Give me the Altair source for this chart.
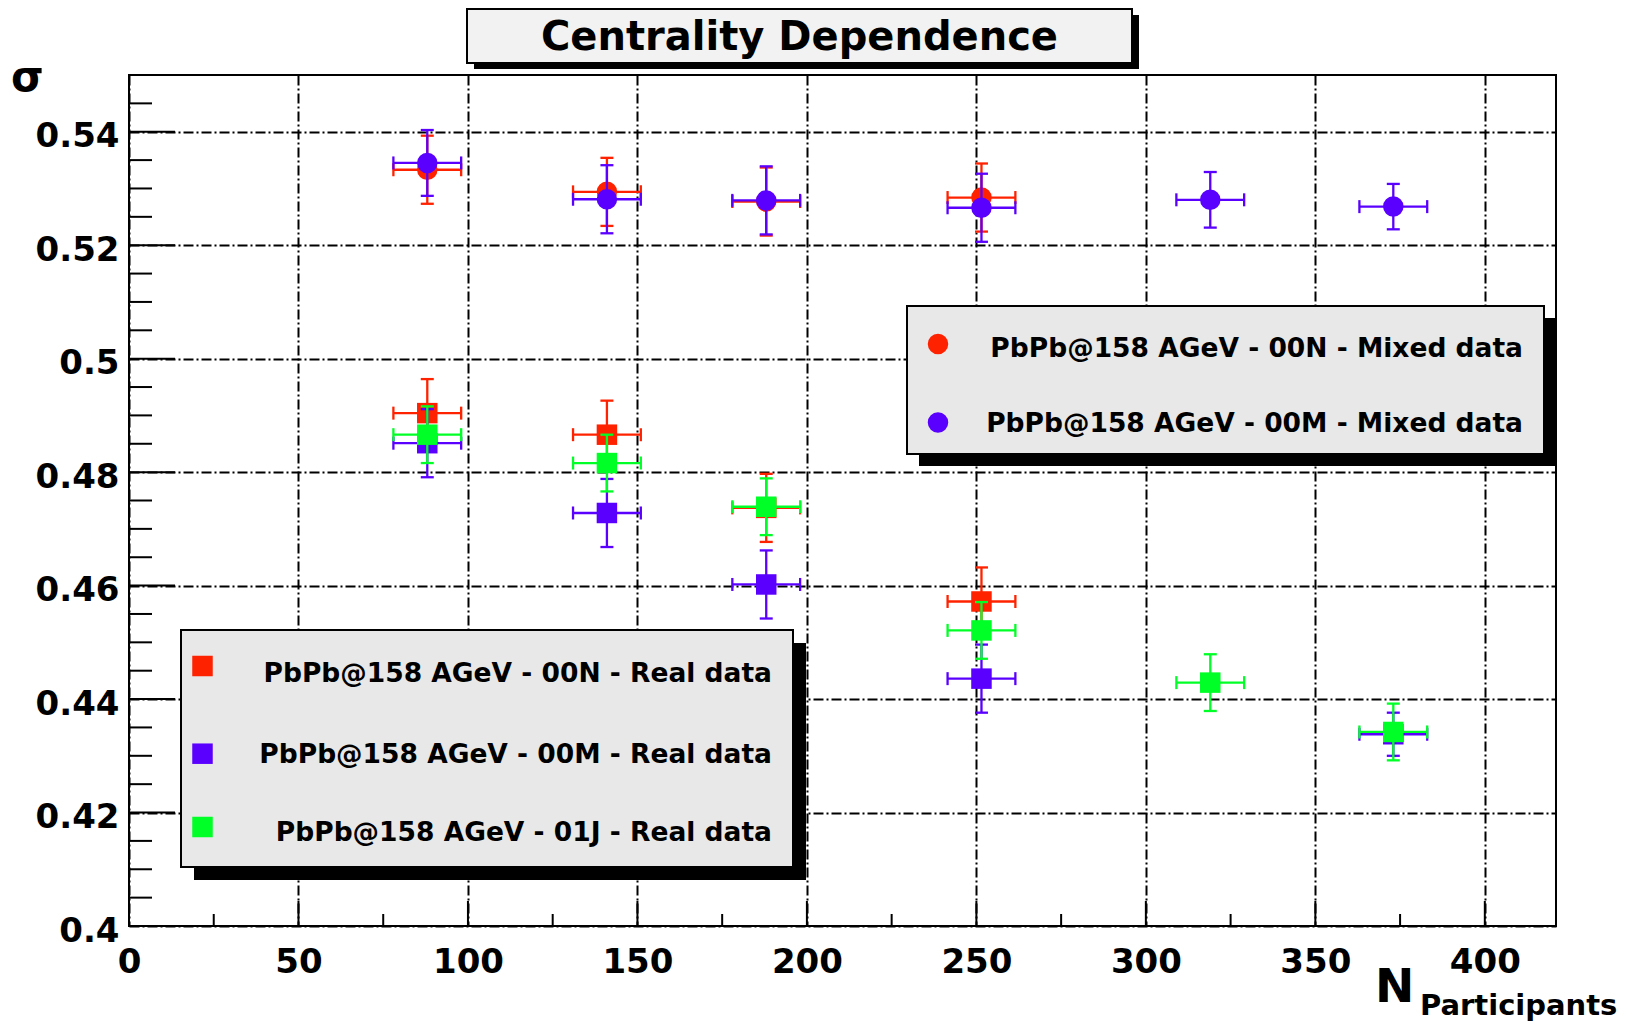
import altair as alt
import pandas as pd

# ---------------- data ----------------
X_DOMAIN = [0, 421]
Y_DOMAIN = [0.40, 0.55]
X_ERR = 10.0

title_text = "Centrality Dependence"
y_title = "σ"
x_title_main = "N"
x_title_sub = "Participants"

x_ticks_major = [0, 50, 100, 150, 200, 250, 300, 350, 400]
x_ticks_minor = [25, 75, 125, 175, 225, 275, 325, 375]
y_ticks_major = [0.40, 0.42, 0.44, 0.46, 0.48, 0.50, 0.52, 0.54]
y_ticks_minor = [0.405, 0.41, 0.415, 0.425, 0.43, 0.435, 0.445, 0.45, 0.455,
                 0.465, 0.47, 0.475, 0.485, 0.49, 0.495, 0.505, 0.51, 0.515,
                 0.525, 0.53, 0.535, 0.545]

names = [
    "PbPb@158 AGeV - 00N - Mixed data",
    "PbPb@158 AGeV - 00M - Mixed data",
    "PbPb@158 AGeV - 00N - Real data",
    "PbPb@158 AGeV - 00M - Real data",
    "PbPb@158 AGeV - 01J - Real data",
]
colors = ["#ff2200", "#5a00ff", "#ff2200", "#5a00ff", "#00ff26"]
shapes = ["circle", "circle", "square", "square", "square"]

x_mixed_00N = [88, 141, 188, 251.5]
y_mixed_00N = [0.5333, 0.5294, 0.5277, 0.5284]
e_mixed_00N = [0.0060, 0.0060, 0.0060, 0.0060]

x_mixed_00M = [88, 141, 188, 251.5, 319, 373]
y_mixed_00M = [0.5345, 0.5281, 0.5279, 0.5266, 0.5280, 0.5268]
e_mixed_00M = [0.0058, 0.0060, 0.0060, 0.0060, 0.0049, 0.0040]

x_real_00N = [88, 141, 188, 251.5]
y_real_00N = [0.4904, 0.4866, 0.4737, 0.4572]
e_real_00N = [0.0060, 0.0060, 0.0060, 0.0060]

x_real_00M = [88, 141, 188, 251.5, 373]
y_real_00M = [0.4851, 0.4728, 0.4602, 0.4436, 0.4338]
e_real_00M = [0.0060, 0.0060, 0.0060, 0.0060, 0.0038]

x_real_01J = [88, 141, 188, 251.5, 319, 373]
y_real_01J = [0.4866, 0.4816, 0.4739, 0.4521, 0.4429, 0.4342]
e_real_01J = [0.0050, 0.0050, 0.0050, 0.0050, 0.0050, 0.0050]

series_x = [x_mixed_00N, x_mixed_00M, x_real_00N, x_real_00M, x_real_01J]
series_y = [y_mixed_00N, y_mixed_00M, y_real_00N, y_real_00M, y_real_01J]
series_e = [e_mixed_00N, e_mixed_00M, e_real_00N, e_real_00M, e_real_01J]

# ---------------- layout ----------------
W, H = 1427, 851
PAD = {"left": 129, "top": 75, "right": 1629 - 129 - W, "bottom": 1025 - 75 - H}
FONT = "DejaVu Sans"
MARKER_SIZE = 420
ERR_W = 2.3
CAP = 13

xs = alt.Scale(domain=X_DOMAIN, nice=False, zero=False)
ys = alt.Scale(domain=Y_DOMAIN, nice=False, zero=False)

grid_common = dict(grid=True, ticks=False, domain=False, gridColor="#000000",
                   gridDash=[10, 3, 2, 3], gridWidth=2, labelFont=FONT,
                   labelFontWeight="bold", labelFontSize=34, labelColor="black",
                   title=None, labelFlush=False, labelOverlap=False)

x_axis = alt.Axis(values=x_ticks_major, labelPadding=19, **grid_common)
y_axis = alt.Axis(values=y_ticks_major, format=".2~f", labelPadding=10,
                  labelOffset=5, **grid_common)


def X(field):
    return alt.X(field, scale=xs, axis=x_axis)


def Y(field):
    return alt.Y(field, scale=ys, axis=y_axis)


layers = []

# inward ticks
def xtick_layer(vals, length):
    return alt.Chart(pd.DataFrame({"v": vals})).mark_rule(color="black", strokeWidth=2).encode(
        x=X("v:Q"), y=alt.value(H), y2=alt.value(H - length))


def ytick_layer(vals, length):
    return alt.Chart(pd.DataFrame({"v": vals})).mark_rule(color="black", strokeWidth=2).encode(
        y=Y("v:Q"), x=alt.value(0), x2=alt.value(length))


layers += [xtick_layer(x_ticks_major, 25), xtick_layer(x_ticks_minor, 12),
           ytick_layer(y_ticks_major, 46), ytick_layer(y_ticks_minor, 23)]

# data series
for name, xv, yv, ev, col, shp in zip(names, series_x, series_y, series_e, colors, shapes):
    df = pd.DataFrame({"x": xv, "y": yv, "e": ev})
    df["ylo"] = df["y"] - df["e"]
    df["yhi"] = df["y"] + df["e"]
    df["xlo"] = df["x"] - X_ERR
    df["xhi"] = df["x"] + X_ERR
    b = alt.Chart(df)
    layers.append(b.mark_rule(color=col, strokeWidth=ERR_W).encode(
        x=X("x:Q"), y=Y("ylo:Q"), y2="yhi:Q"))
    layers.append(b.mark_rule(color=col, strokeWidth=ERR_W).encode(
        y=Y("y:Q"), x=X("xlo:Q"), x2="xhi:Q"))
    for fy in ["ylo", "yhi"]:
        layers.append(b.mark_tick(color=col, orient="horizontal", size=CAP,
                                  thickness=ERR_W, opacity=1).encode(
            x=X("x:Q"), y=Y(f"{fy}:Q")))
    for fx in ["xlo", "xhi"]:
        layers.append(b.mark_tick(color=col, orient="vertical", size=CAP,
                                  thickness=ERR_W, opacity=1).encode(
            x=X(f"{fx}:Q"), y=Y("y:Q")))
    layers.append(b.mark_point(filled=True, shape=shp, size=MARKER_SIZE,
                               color=col, opacity=1).encode(
        x=X("x:Q"), y=Y("y:Q")))


# legend boxes (pixel layout)
def box(x0, y0, x1, y1, fill, shadow, stroke_w=2):
    one = pd.DataFrame({"k": [0]})
    out = []
    if shadow:
        out.append(alt.Chart(one).mark_rect(color="black").encode(
            x=alt.value(x0 + shadow[0]), x2=alt.value(x1 + shadow[0]),
            y=alt.value(y0 + shadow[1]), y2=alt.value(y1 + shadow[1])))
    out.append(alt.Chart(one).mark_rect(fill=fill, stroke="black", strokeWidth=stroke_w).encode(
        x=alt.value(x0), x2=alt.value(x1), y=alt.value(y0), y2=alt.value(y1)))
    return out


def legend_entries(idx, mx, my_list, tx, ty_list):
    out = []
    for i, my, ty in zip(idx, my_list, ty_list):
        d = pd.DataFrame({"label": [names[i]]})
        out.append(alt.Chart(d).mark_point(filled=True, shape=shapes[i], size=MARKER_SIZE,
                                          color=colors[i], opacity=1).encode(
            x=alt.value(mx), y=alt.value(my)))
        out.append(alt.Chart(d).mark_text(font=FONT, fontWeight="bold", fontSize=26.5,
                                         align="right", baseline="alphabetic",
                                         color="black").encode(
            text="label:N", x=alt.value(tx), y=alt.value(ty)))
    return out


# mixed-data legend
layers += box(778, 231, 1415, 379, "#e8e8e8", (12, 12))
layers += legend_entries([0, 1], 809, [269, 347.5], 1394, [282, 357])
# real-data legend
layers += box(52, 555, 664, 792, "#e8e8e8", (13, 13))
layers += legend_entries([2, 3, 4], 73.5, [591, 678.7, 752], 643, [607, 688, 766])

# title box
layers += box(338, -66, 1003, -12, "#f2f2f2", (7, 6))
layers.append(alt.Chart(pd.DataFrame({"t": [title_text]})).mark_text(
    font=FONT, fontWeight="bold", fontSize=40, align="center", baseline="alphabetic",
    color="black").encode(text="t:N", x=alt.value(670.5), y=alt.value(-25)))

# axis titles
layers.append(alt.Chart(pd.DataFrame({"t": [y_title]})).mark_text(
    font=FONT, fontWeight="bold", fontSize=42, align="left", baseline="alphabetic",
    color="black").encode(text="t:N", x=alt.value(-118), y=alt.value(16)))
layers.append(alt.Chart(pd.DataFrame({"t": [x_title_main]})).mark_text(
    font=FONT, fontWeight="bold", fontSize=47, align="left", baseline="alphabetic",
    color="black").encode(text="t:N", x=alt.value(1246), y=alt.value(927)))
layers.append(alt.Chart(pd.DataFrame({"t": [x_title_sub]})).mark_text(
    font=FONT, fontWeight="bold", fontSize=29, align="left", baseline="alphabetic",
    color="black").encode(text="t:N", x=alt.value(1291), y=alt.value(940)))

chart = alt.layer(*layers).properties(
    width=W, height=H,
    autosize=alt.AutoSizeParams(type="none"),
    padding=PAD,
    background="white",
).configure_view(stroke="black", strokeWidth=2)

chart.save("out.html", embed_options={"renderer": "svg", "actions": False})
